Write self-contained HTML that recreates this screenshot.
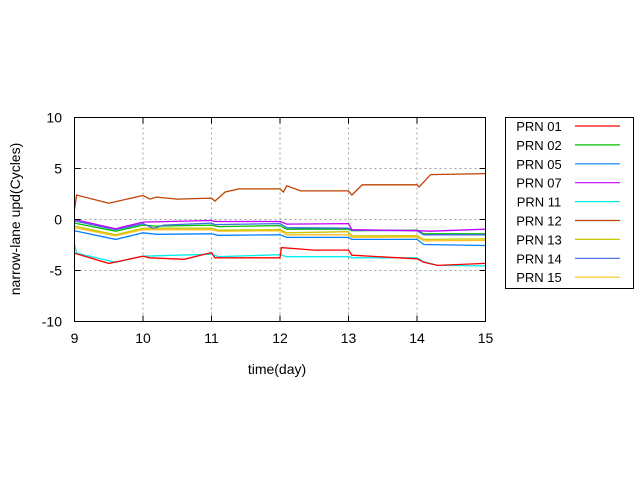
<!DOCTYPE html>
<html><head><meta charset="utf-8"><style>
html,body{margin:0;padding:0;background:#fff}
svg{display:block;font-family:"Liberation Sans",sans-serif}
</style></head><body>
<svg id="chart" width="640" height="480">
<g id="grid"></g>
<g id="series"></g>
<rect x="74.5" y="117.5" width="411" height="204" fill="none" stroke="#000"/>
<g id="ticks"></g>
<text x="277" y="374" font-size="14" text-anchor="middle">time(day)</text>
<text transform="translate(20,219) rotate(-90)" font-size="14" text-anchor="middle">narrow-lane upd(Cycles)</text>
<g id="legend"></g>
</svg>
<script>
const xTicks=[9,10,11,12,13,14,15];
const yTicks=[10,5,0,-5,-10];
const names=["PRN 01","PRN 02","PRN 05","PRN 07","PRN 11","PRN 12","PRN 13","PRN 14","PRN 15"];
const colors=["#ff0000","#00c000","#0080ff","#c000ff","#00eeee","#c04000","#c8c800","#4169e1","#ffc020"];
const prn01=[[9,-3.3],[9.5,-4.3],[10,-3.6],[10.1,-3.75],[10.6,-3.9],[11,-3.25],[11.05,-3.75],[12,-3.75],[12.02,-2.75],[12.5,-3.0],[13,-3.0],[13.05,-3.5],[14,-3.85],[14.1,-4.2],[14.3,-4.5],[15,-4.3]];
const prn02=[[9,-0.35],[9.6,-1.15],[10,-0.55],[10.2,-0.65],[11,-0.55],[11.1,-0.7],[12,-0.6],[12.1,-0.95],[13,-0.95],[13.05,-1.1],[14,-1.05],[14.1,-1.4],[15,-1.4]];
const prn05=[[9,-1.1],[9.6,-1.95],[10,-1.3],[10.2,-1.45],[11,-1.4],[11.1,-1.55],[12,-1.5],[12.1,-1.75],[13,-1.75],[13.05,-1.95],[14,-1.95],[14.1,-2.45],[15,-2.55]];
const prn07=[[9,0],[9.6,-0.9],[10,-0.25],[11,-0.1],[11.05,-0.2],[12,-0.2],[12.1,-0.45],[13,-0.4],[13.05,-1.0],[14,-1.1],[14.2,-1.15],[15,-0.95]];
const prn11=[[9,-2.45],[9.03,-3.3],[9.6,-4.2],[10,-3.6],[11,-3.4],[11.1,-3.65],[12,-3.45],[12.1,-3.65],[13,-3.65],[13.05,-3.75],[14,-3.75],[14.1,-4.15],[14.3,-4.5],[15,-4.55]];
const prn12=[[9,1.0],[9.03,2.4],[9.5,1.6],[10,2.35],[10.1,2.0],[10.2,2.2],[10.5,2.0],[11,2.1],[11.05,1.8],[11.2,2.7],[11.4,3.0],[12,3.0],[12.05,2.7],[12.1,3.3],[12.3,2.8],[13,2.8],[13.05,2.4],[13.2,3.4],[14,3.4],[14.03,3.2],[14.2,4.4],[15,4.5]];
const prn13=[[9,-0.65],[9.6,-1.5],[10,-0.85],[11,-0.85],[11.1,-1.05],[12,-1.0],[12.1,-1.3],[13,-1.2],[13.05,-1.6],[14,-1.6],[14.1,-1.95],[15,-1.9]];
const prn14=[[9,-0.15],[9.6,-1.0],[10,-0.4],[10.15,-0.85],[10.3,-0.55],[11,-0.35],[11.05,-0.5],[12,-0.4],[12.1,-0.8],[13,-0.85],[13.05,-1.05],[14,-1.1],[14.1,-1.5],[15,-1.5]];
const prn15=[[9,-0.8],[9.6,-1.6],[10,-1.0],[11,-1.0],[11.1,-1.15],[12,-1.1],[12.1,-1.5],[13,-1.5],[13.05,-1.75],[14,-1.72],[14.1,-2.1],[15,-2.05]];
const seriesData=[prn01,prn02,prn05,prn07,prn11,prn12,prn13,prn14,prn15];
const drawOrder=[5,4,0,2,8,6,1,7,3];
const X0=74.5,X1=485.5,Y0=321.5,Y1=117.5;
const sx=v=>X0+(v-9)/6*(X1-X0);
const sy=v=>Y0-(v+10)/20*(Y0-Y1);
const NS="http://www.w3.org/2000/svg";
function mk(tag,attrs,parent){const e=document.createElementNS(NS,tag);for(const k in attrs)e.setAttribute(k,attrs[k]);parent.appendChild(e);return e;}
const grid=document.getElementById('grid'),ticks=document.getElementById('ticks');
xTicks.forEach(t=>{const x=sx(t);
 if(t>9&&t<15){const l=mk('line',{x1:x,x2:x,y1:Y1,y2:Y0,stroke:'#a0a0a0','stroke-dasharray':'2,3'},grid);
 
 }
 mk('line',{x1:x,x2:x,y1:Y0,y2:Y0-6,stroke:'#000'},ticks);
 mk('line',{x1:x,x2:x,y1:Y1,y2:Y1+6,stroke:'#000'},ticks);
 const tx=mk('text',{x:x,y:343,'font-size':14,'text-anchor':'middle'},ticks);tx.textContent=t;
 
 
});
yTicks.forEach(t=>{const y=sy(t);
 if(t>-10&&t<10){const l=mk('line',{x1:X0,x2:X1,y1:y,y2:y,stroke:'#a0a0a0','stroke-dasharray':'2,3'},grid);
 
 }
 mk('line',{x1:X0,x2:X0+6,y1:y,y2:y,stroke:'#000'},ticks);
 mk('line',{x1:X1,x2:X1-6,y1:y,y2:y,stroke:'#000'},ticks);
 const tx=mk('text',{x:62,y:y+5,'font-size':14,'text-anchor':'end'},ticks);tx.textContent=t;
 
 
});
const sg=document.getElementById('series');
drawOrder.forEach(i=>{const d=seriesData[i];
 const p=mk('polyline',{points:d.map(q=>sx(q[0]).toFixed(1)+','+sy(q[1]).toFixed(1)).join(' '),fill:'none',stroke:colors[i],'stroke-width':1.3},sg);
 
 
});
const lg=document.getElementById('legend');
const box=mk('rect',{x:505.5,y:117.5,width:128,height:171,fill:'#fff',stroke:'#000'},lg);


names.forEach((n,i)=>{const y=126+i*18.9;
 const g=mk('g',{},lg);
 
 
 const t=mk('text',{x:539,y:y+5,'font-size':13,'text-anchor':'middle'},g);t.textContent=n;
 mk('line',{x1:575,x2:620,y1:y,y2:y,stroke:colors[i],'stroke-width':1.2},g);
});
</script>
</body></html>
